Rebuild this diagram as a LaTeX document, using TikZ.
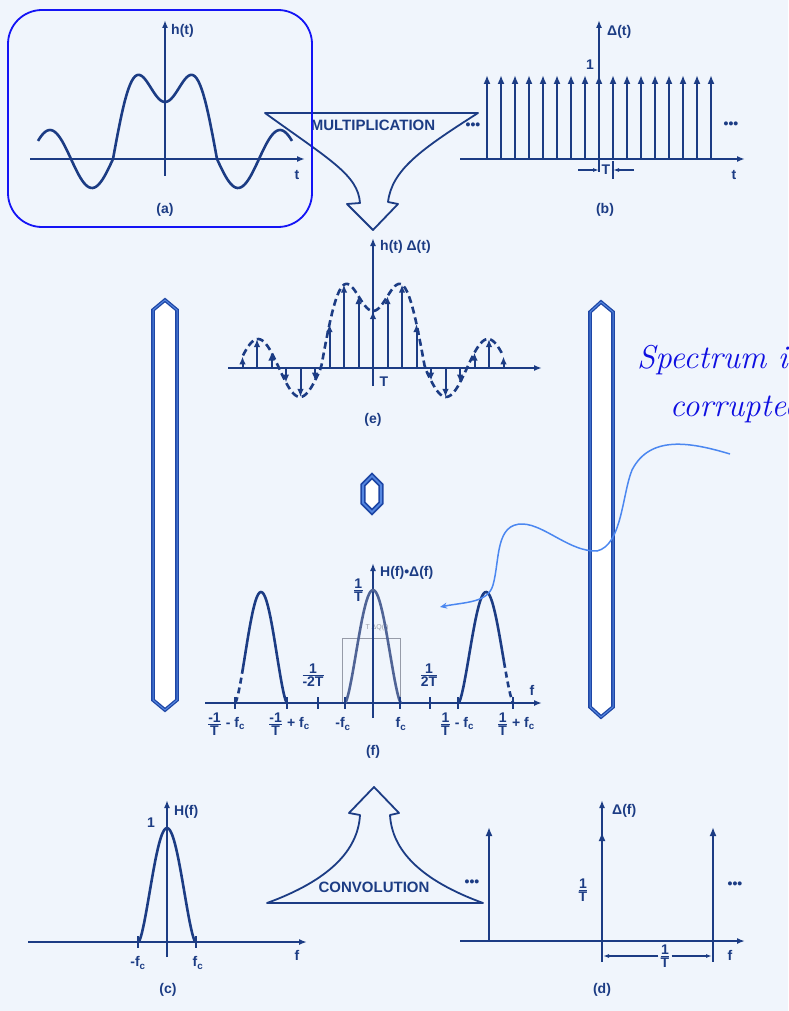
\documentclass[tikz,border=0pt]{standalone}
\usepackage{fontspec}
\newfontfamily\figfont{Liberation Sans}
\usepackage{tikz}
\usetikzlibrary{arrows.meta}

\definecolor{bgblue}{RGB}{240,245,252}
\definecolor{ink}{RGB}{28,60,132}
\definecolor{inkgray}{RGB}{80,100,150}
\definecolor{boxblue}{RGB}{20,20,245}
\definecolor{bardark}{RGB}{30,70,165}
\definecolor{barmid}{RGB}{85,135,225}
\definecolor{noteblue}{RGB}{15,15,225}
\definecolor{notecurve}{RGB}{75,135,240}
\definecolor{ghost}{RGB}{150,155,168}

\newcommand{\ovr}[2]{${\mbox{#1}\above1.1pt\mbox{#2}}$}

\tikzset{
  axis/.style={ink, line width=1.8pt, -{Latex[length=8pt,width=6pt]}},
  wave/.style={ink, line width=2.6pt},
  sample/.style={ink, line width=2pt, -{Latex[length=8pt,width=6.5pt]}},
  impulse/.style={ink, line width=2.2pt, -{Latex[length=9pt,width=7pt]}},
  lbl/.style={ink, font=\figfont\bfseries\fontsize{14}{15}\selectfont, inner sep=1pt},
  bigarrow/.style={ink, line width=1.8pt, fill=bgblue, line join=round},
  eqbar/.style={bardark, line width=1.3pt, double=barmid, double distance=1pt, fill=white},
  tick/.style={ink, line width=1.4pt},
  dimline/.style={ink, line width=1.3pt, -{Latex[length=6pt,width=4pt]}},
}

\begin{document}
\begin{tikzpicture}[x=1pt, y=-1pt,
  declare function={hw(\u)=(abs(\u)<52)*(88*cos(1.7308*\u)-31*cos(5.1923*\u))-(abs(\u)>=52)*29*sin(4.2857*(abs(\u)-52));
    bell(\u,\w)=cos(90*\u/\w)*sqrt(abs(cos(90*\u/\w)));}]
  \useasboundingbox (0,0) rectangle (788,1011);
  \fill[bgblue] (0,0) rectangle (788,1011);

  % the two big arrows
  \draw[bigarrow] (360,203) .. controls (358,175) and (330,160) .. (265,113) -- (478,113)
    .. controls (420,150) and (392,170) .. (388,202) -- (398,204) -- (373,230) -- (347,204) -- cycle;
  \node[lbl, font=\figfont\bfseries\fontsize{15}{15}\selectfont] (multtxt) at (373,125) {MULTIPLICATION};
  \draw[bigarrow] (360,815) .. controls (358,850) and (330,880) .. (267,903) -- (483,903)
    .. controls (420,880) and (392,850) .. (390,815) -- (399,813) -- (374,787) -- (349,813) -- cycle;
  \node[lbl, font=\figfont\bfseries\fontsize{15}{15}\selectfont] (convtxt) at (374,887) {CONVOLUTION};

  % equals bars and the zero
  \draw[eqbar] (165,300) -- (177,310) -- (177,700) -- (165,710) -- (153,700) -- (153,310) -- cycle;
  \draw[eqbar] (601,302) -- (613,312) -- (613,707) -- (601,717) -- (590,707) -- (590,312) -- cycle;
  \draw[eqbar, line width=1.8pt, double distance=1.6pt] (372,476) -- (381,485) -- (381,503) -- (372,512) -- (363,503) -- (363,485) -- cycle;

  % (a) h(t)
  \draw[axis] (30,159) -- (305,159);
  \draw[axis] (165,176) -- (165,20);
  \draw[wave] plot[domain=-127:127, samples=150] ({165+\x},{159-hw(\x)});
  \node[lbl, anchor=west] (ht) at (170,31) {h(t)};
  \node[lbl] (ta) at (297,175) {t};
  \node[lbl] (capa) at (165,210) {(a)};
  \draw[boxblue, line width=1.8pt, rounded corners=34pt] (8,10) rectangle (312,227);

  % (b) sampling comb
  \draw[axis] (460,159) -- (745,159);
  \draw[axis] (599,172) -- (599,20);
  \foreach \k in {-8,...,8}
    \draw[impulse] ({599+14*\k},159) -- ({599+14*\k},75);
  \node[lbl, anchor=west] (deltat) at (606,32) {Δ(t)};
  \node[lbl] (oneb) at (590,65) {1};
  \node[lbl] (dotsbl) at (473,126) {•••};
  \node[lbl] (dotsbr) at (731,125) {•••};
  \draw[tick] (613,161) -- (613,179);
  \node[lbl] (tb) at (606,170) {T};
  \coordinate (tbl) at (578,170);
  \coordinate (tbr) at (634,170);
  \draw[dimline] (tbl) -- (599,170);
  \draw[dimline] (tbr) -- (613,170);
  \node[lbl] (tlb) at (734,175) {t};
  \node[lbl] (capb) at (605,210) {(b)};

  % (e) sampled h(t)
  \draw[axis] (228,368) -- (542,368);
  \draw[axis] (373,386) -- (373,238);
  \draw[wave, dash pattern=on 7pt off 4pt] plot[domain=-130:130, samples=150] ({373+\x},{368-hw(\x)});
  \foreach \n in {-9,...,9}{
    \pgfmathsetmacro{\sx}{373+14.5*\n}
    \pgfmathsetmacro{\sy}{368-hw(14.5*\n)}
    \draw[sample] (\sx,368) -- (\sx,\sy);
  }
  \node[lbl, anchor=west] (hdt) at (379,247) {h(t) Δ(t)};
  \node[lbl] (te) at (384,382) {T};
  \node[lbl] (cape) at (373,420) {(e)};

  % (f) H(f)*Delta(f)
  \draw[ghost, line width=0.8pt] (342,638) rectangle (400,703);
  \node[ghost, font=\figfont\fontsize{7}{7}\selectfont] (ghostlbl) at (377,628) {T ΔQ(f)};
  \draw[axis] (205,703) -- (542,703);
  \draw[axis] (373,718) -- (373,563);
  \draw[inkgray, line width=2.6pt] plot[domain=-27.8:27.8, samples=60] ({373+\x},{703-113*bell(\x,28)});
  \draw[wave] plot[domain=-18:25.8, samples=60] ({261+\x},{703-111*bell(\x,26)});
  \draw[wave, dash pattern=on 6pt off 4pt] plot[domain=-25.8:-18, samples=20] ({261+\x},{703-111*bell(\x,26)});
  \draw[wave] plot[domain=-27.3:18, samples=60] ({486+\x},{703-111*bell(\x,27.5)});
  \draw[wave, dash pattern=on 6pt off 4pt] plot[domain=18:27.3, samples=20] ({486+\x},{703-111*bell(\x,27.5)});
  \foreach \t in {235,287,318,345,400,430,458,513}
    \draw[tick] (\t,697) -- (\t,709);
  \node[lbl, anchor=west] (hconv) at (379,573) {H(f)•Δ(f)};
  \node[lbl, anchor=east] (onetf) at (365,590) {\ovr{1}{T}};
  \node[lbl] (mhalf) at (313,675) {\ovr{1}{-2T}};
  \node[lbl] (phalf) at (429,675) {\ovr{1}{2T}};
  \node[lbl] (ff) at (532,690) {f};
  \node[lbl] (lab1) at (226,724) {\ovr{-1}{T} - f\textsubscript{c}};
  \node[lbl] (lab2) at (289,724) {\ovr{-1}{T} + f\textsubscript{c}};
  \node[lbl] (lab3) at (343,724) {-f\textsubscript{c}};
  \node[lbl] (lab4) at (401,724) {f\textsubscript{c}};
  \node[lbl] (lab5) at (457,724) {\ovr{1}{T} - f\textsubscript{c}};
  \node[lbl] (lab6) at (516,724) {\ovr{1}{T} + f\textsubscript{c}};
  \node[lbl] (capf) at (373,752) {(f)};

  % (c) H(f)
  \draw[axis] (28,942) -- (307,942);
  \draw[axis] (167,957) -- (167,800);
  \draw[wave] plot[domain=-28.3:28.3, samples=60] ({167+\x},{942-114*bell(\x,28.5)});
  \draw[tick] (138,936) -- (138,948);
  \draw[tick] (196,936) -- (196,948);
  \node[lbl] (onec) at (151,823) {1};
  \node[lbl, anchor=west] (hf) at (173,812) {H(f)};
  \node[lbl] (fcl) at (138,963) {-f\textsubscript{c}};
  \node[lbl] (fcr) at (198,963) {f\textsubscript{c}};
  \node[lbl] (fc) at (297,955) {f};
  \node[lbl] (capc) at (168,990) {(c)};

  % (d) Delta(f)
  \draw[axis] (460,941) -- (745,941);
  \draw[axis] (602,962) -- (602,800);
  \draw[impulse] (489,941) -- (489,827);
  \draw[impulse] (602,941) -- (602,832);
  \draw[impulse] (713,941) -- (713,827);
  \draw[tick] (713,941) -- (713,962);
  \node[lbl, anchor=west] (deltaf) at (611,811) {Δ(f)};
  \node[lbl] (onetd) at (583,890) {\ovr{1}{T}};
  \node[lbl] (dotsdl) at (472,883) {•••};
  \node[lbl] (dotsdr) at (735,885) {•••};
  \node[lbl] (dimd) at (665,956) {\ovr{1}{T}};
  \coordinate (dimdl) at (603,0);
  \coordinate (dimdr) at (712,0);
  \draw[dimline] (dimd.west) -- (dimd.west -| dimdl);
  \draw[dimline] (dimd.east) -- (dimd.east -| dimdr);
  \node[lbl] (fd) at (730,955) {f};
  \node[lbl] (capd) at (602,990) {(d)};

  % note
  \node[noteblue, font=\itshape\fontsize{33}{48}\selectfont, align=right, anchor=north west, inner sep=0pt] (note) at (637,345) {Spectrum is\\corrupted};
  \coordinate (notestart) at (730,454);
  \coordinate (noteend) at (440,607);
  \draw[notecurve, line width=1.5pt, -{Stealth[length=7pt,width=6pt]}] (notestart)
    .. controls (690,442) and (650,435) .. (632,470)
    .. controls (622,495) and (622,545) .. (597,551)
    .. controls (570,552) and (545,525) .. (523,524)
    .. controls (495,523) and (500,560) .. (493,585)
    .. controls (488,603) and (465,602) .. (noteend);
\end{tikzpicture}
\end{document}
